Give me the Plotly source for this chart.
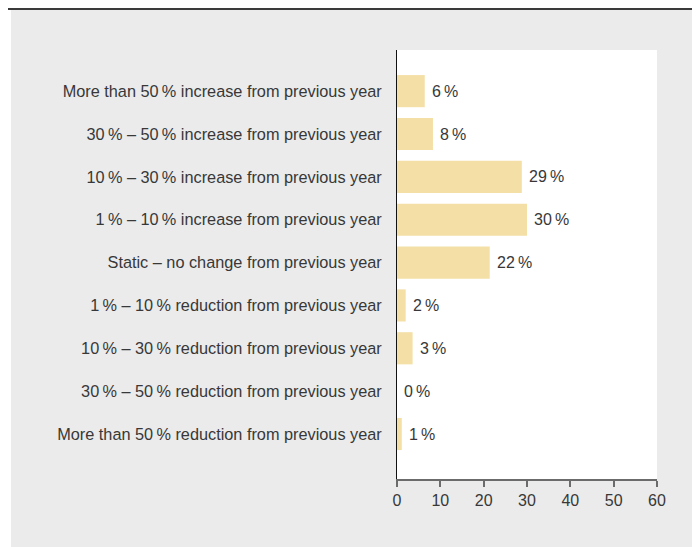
import plotly.graph_objects as go

categories = [
    "More than 50\u2009% reduction from previous year",
    "30\u2009% \u2013 50\u2009% reduction from previous year",
    "10\u2009% \u2013 30\u2009% reduction from previous year",
    "1\u2009% \u2013 10\u2009% reduction from previous year",
    "Static \u2013 no change from previous year",
    "1\u2009% \u2013 10\u2009% increase from previous year",
    "10\u2009% \u2013 30\u2009% increase from previous year",
    "30\u2009% \u2013 50\u2009% increase from previous year",
    "More than 50\u2009% increase from previous year",
]
values = [1.1, 0.0, 3.6, 2.0, 21.4, 30.0, 28.8, 8.3, 6.4]
value_labels = ["1\u2009%", "0\u2009%", "3\u2009%", "2\u2009%", "22\u2009%", "30\u2009%", "29\u2009%", "8\u2009%", "6\u2009%"]
x_ticks = [0, 10, 20, 30, 40, 50, 60]

FONT = "Liberation Sans, Arial, Helvetica, sans-serif"
TXT = "#383838"

OFF = 8  # page body margin
W, H = 700 - OFF, 547 - OFF
L, R, T, B = 397 - OFF, 43, 50 - OFF, 68
pw, ph = W - L - R, H - T - B

def px_x(p):
    return (p - OFF - L) / pw

def px_y(p):
    return 1 - (p - OFF - T) / ph

idx = list(range(len(categories)))

fig = go.Figure()
fig.add_trace(go.Bar(
    x=values, y=idx, orientation="h",
    marker=dict(color="#f4dfa6", line=dict(width=0)),
    width=0.75, hoverinfo="skip",
))

for v, i, t in zip(values, idx, value_labels):
    fig.add_annotation(x=v, y=i, text=t, showarrow=False, xanchor="left",
                       xshift=5, font=dict(family=FONT, size=16, color=TXT))

shapes = [
    dict(type="rect", xref="paper", yref="paper", x0=px_x(11), x1=px_x(697),
         y0=px_y(9), y1=px_y(560), fillcolor="#ebebeb", line=dict(width=0), layer="below"),
    dict(type="rect", xref="paper", yref="paper", x0=0, x1=1, y0=0, y1=1,
         fillcolor="white", line=dict(width=0), layer="below"),
    dict(type="line", xref="paper", yref="paper", x0=px_x(8), x1=px_x(697),
         y0=px_y(9), y1=px_y(9), line=dict(color="#3a3a3a", width=2)),
]

fig.update_layout(
    width=W, height=H,
    margin=dict(l=L, r=R, t=T, b=B, pad=0),
    paper_bgcolor="white",
    plot_bgcolor="rgba(0,0,0,0)",
    showlegend=False,
    shapes=shapes,
    font=dict(family=FONT, size=16, color=TXT),
    xaxis=dict(
        range=[0, 60], tickvals=x_ticks, ticktext=[str(t) for t in x_ticks],
        showgrid=False, zeroline=False, showline=True, linecolor="#6b6b6b", linewidth=1.5,
        ticks="outside", ticklen=6, tickwidth=1.5, tickcolor="#6b6b6b",
        tickfont=dict(family=FONT, size=16, color=TXT),
    ),
    yaxis=dict(
        range=[-1.05, 8.96], tickvals=idx, ticktext=categories,
        showgrid=False, zeroline=False, showline=True, linecolor="#111111", linewidth=1,
        ticks="", ticklabelstandoff=11,
        tickfont=dict(family=FONT, size=16.3, color=TXT),
    ),
)

fig.write_html("out.html")
